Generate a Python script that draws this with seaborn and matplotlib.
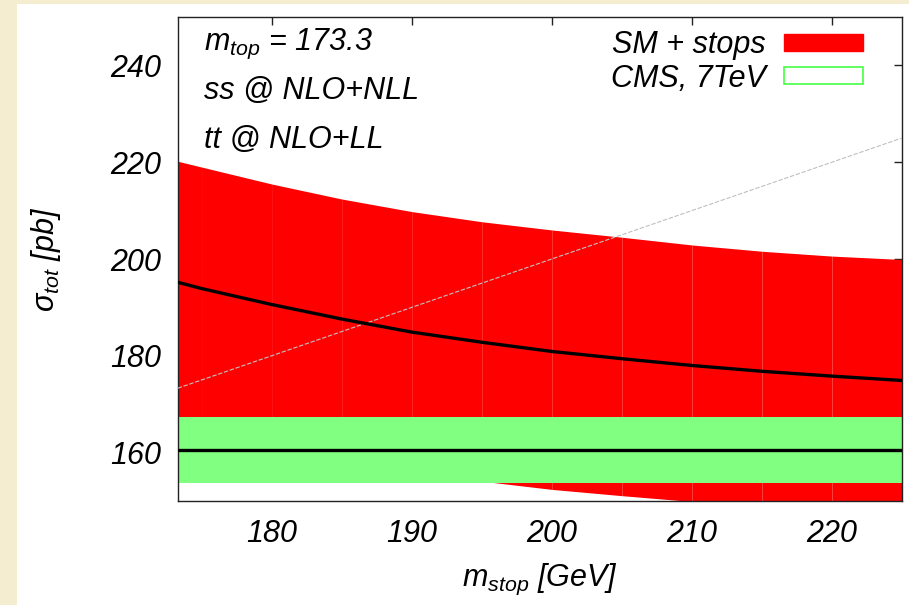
import numpy as np
import pandas as pd
import seaborn as sns
import matplotlib.pyplot as plt
from matplotlib.patches import Patch, Rectangle

# data
m_stop = [173.3, 175, 180, 185, 190, 195, 200, 205, 210, 215, 220, 225]
sigma_central = [195.2, 193.9, 190.6, 187.6, 184.9, 182.8, 180.9, 179.4, 178.0, 176.8, 175.8, 174.9]

band_x = [173.3, 175, 180, 185, 190, 195, 200, 205, 210, 215, 220, 225]
band_upper = [220.2, 219.0, 215.5, 212.4, 209.8, 207.7, 206.0, 204.5, 202.9, 201.6, 200.6, 199.9]
band_lower = [164.4, 163.3, 160.5, 158.0, 155.8, 154.1, 152.4, 151.1, 149.9, 148.9, 148.0, 147.3]

cms_x = [173.3, 225]
cms_central = [160.5, 160.5]
cms_lower = [153.8, 153.8]
cms_upper = [167.3, 167.3]

diag_x = [173.3, 225]
diag_y = [173.3, 225]

xticks = [180, 190, 200, 210, 220]
yticks = [160, 180, 200, 220, 240]

sns.set_theme(style="white")
plt.rcParams['font.family'] = ['Liberation Sans', 'DejaVu Sans']
plt.rcParams['font.style'] = 'italic'
plt.rcParams['text.color'] = 'black'
plt.rcParams['axes.labelcolor'] = 'black'
plt.rcParams['mathtext.fontset'] = 'custom'
plt.rcParams['mathtext.it'] = 'Liberation Sans:italic'
plt.rcParams['mathtext.rm'] = 'Liberation Sans:italic'
plt.rcParams['mathtext.default'] = 'it'

fs = 22

fig = plt.figure(figsize=(9.09, 6.05), dpi=100)
fig.patch.set_facecolor('#f4edcf')
fig.add_artist(Rectangle((17 / 909, 0), 1, 601 / 605, transform=fig.transFigure,
                         facecolor='white', edgecolor='none', zorder=-10))
ax = fig.add_axes([0.1955, 0.1719, 0.7968, 0.80])
ax.set_facecolor('white')

# red band, drawn piece by piece (gives the faint seams)
for i in range(len(band_x) - 1):
    ax.fill_between(band_x[i:i + 2], band_lower[i:i + 2], band_upper[i:i + 2],
                    color='#ff0000', linewidth=0, zorder=1)

# green CMS band
ax.fill_between(cms_x, cms_lower, cms_upper, color='#80ff80', linewidth=0, zorder=2)

# y = x guide line
ax.plot(diag_x, diag_y, color='#c0c0c0', lw=0.8, ls=(0, (4, 1.5)), zorder=3)

df_sm = pd.DataFrame({'m': m_stop, 's': sigma_central})
df_cms = pd.DataFrame({'m': cms_x, 's': cms_central})
sns.lineplot(data=df_sm, x='m', y='s', color='black', lw=2.4, ax=ax, zorder=4)
sns.lineplot(data=df_cms, x='m', y='s', color='black', lw=2.4, ax=ax, zorder=4)

ax.set_xlim(173.3, 225)
ax.set_ylim(150, 250)
ax.set_xticks(xticks)
ax.set_yticks(yticks)
ax.tick_params(direction='in', length=6, width=1, colors='#222222',
               labelcolor='black', labelsize=fs, top=True, right=True)
ax.tick_params(axis='y', pad=12)
ax.tick_params(axis='x', pad=13)
for lab in ax.get_xticklabels() + ax.get_yticklabels():
    lab.set_fontstyle('italic')
for sp in ax.spines.values():
    sp.set_color('#222222')
    sp.set_linewidth(1)

ax.set_xlabel(r'm$_{stop}$ [GeV]', fontsize=fs, fontstyle='italic')
ax.set_ylabel(r'σ$_{tot}$ [pb]', fontsize=fs, fontstyle='italic')
ax.xaxis.set_label_coords(0.5, -0.125)
ax.yaxis.set_label_coords(-0.158, 0.5)

ax.text(0.036, 0.933, r'm$_{top}$ = 173.3', transform=ax.transAxes, fontsize=fs,
        fontstyle='italic', va='baseline', ha='left')
ax.text(0.036, 0.831, 'ss @ NLO+NLL', transform=ax.transAxes, fontsize=fs,
        fontstyle='italic', va='baseline', ha='left')
ax.text(0.036, 0.730, 'tt @ NLO+LL', transform=ax.transAxes, fontsize=fs,
        fontstyle='italic', va='baseline', ha='left')

handles = [Patch(facecolor='#ff0000', edgecolor='#ff0000'),
           Patch(facecolor='white', edgecolor='#44ff44', linewidth=1.2)]
leg = ax.legend(handles, ['SM + stops', 'CMS, 7TeV'], loc='upper right',
                bbox_to_anchor=(0.972, 1.01), frameon=False, markerfirst=False,
                fontsize=fs, handlelength=2.6, handleheight=0.5,
                handletextpad=0.6, labelspacing=0.1, borderaxespad=0.2)
for t in leg.get_texts():
    t.set_fontstyle('italic')
    t.set_color('black')

fig.savefig('out.png', dpi=100, facecolor=fig.get_facecolor())
